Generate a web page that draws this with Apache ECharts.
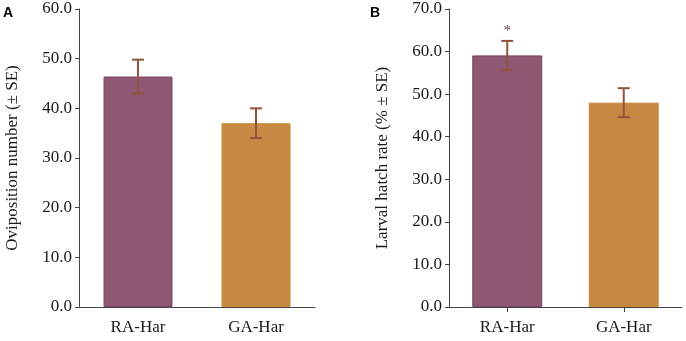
<!DOCTYPE html>
<html>
<head>
<meta charset="utf-8">
<script src="https://cdn.jsdelivr.net/npm/echarts@6/dist/echarts.min.js"></script>
<style>
  html, body { margin: 0; padding: 0; background: #fff; }
  #main { width: 686px; height: 341px; }
</style>
</head>
<body>
<div id="main"></div>
<script>
// data
var categories = ['RA-Har', 'GA-Har'];
var ovipositionMean = [46.4, 37.0];
var ovipositionSE = [3.4, 3.0];
var hatchMean = [59.1, 48.0];
var hatchSE = [3.4, 3.4];
var hatchSig = ['*', ''];
var ovipositionTicks = { min: 0, max: 60, interval: 10 };
var hatchTicks = { min: 0, max: 70, interval: 10 };

var barColors = ['#8e5873', '#c68842'];
var barBorders = ['#7e4662', '#c9883a'];
var errColor = '#93543e';
var font = '"Liberation Serif", "Times New Roman", serif';

function barData(means) {
    var out = [];
    for (var i = 0; i < means.length; i++) {
        out.push({
            value: means[i],
            itemStyle: { color: barColors[i], borderColor: barBorders[i], borderWidth: 1 }
        });
    }
    return out;
}

function errData(means, ses) {
    var out = [];
    for (var i = 0; i < means.length; i++) {
        out.push([i, means[i] - ses[i], means[i] + ses[i]]);
    }
    return out;
}

function errRender(marks) {
    return function (params, api) {
        var idx = api.value(0);
        var lo = api.coord([idx, api.value(1)]);
        var hi = api.coord([idx, api.value(2)]);
        var half = 6;
        var style = { stroke: errColor, lineWidth: 2 };
        var children = [
            { type: 'line', shape: { x1: hi[0], y1: hi[1], x2: lo[0], y2: lo[1] }, style: style },
            { type: 'line', shape: { x1: hi[0] - half, y1: hi[1], x2: hi[0] + half, y2: hi[1] }, style: style },
            { type: 'line', shape: { x1: lo[0] - half, y1: lo[1], x2: lo[0] + half, y2: lo[1] }, style: style }
        ];
        // significance mark above the error bar
        if (marks && marks[params.dataIndex]) {
            children.push({
                type: 'text',
                style: {
                    text: marks[params.dataIndex], x: hi[0], y: hi[1] - 2,
                    align: 'center', verticalAlign: 'bottom',
                    fill: '#6b3a55', font: '15px ' + font
                }
            });
        }
        return { type: 'group', children: children };
    };
}

function yAxisOf(ticks, name, gridIndex) {
    return {
        type: 'value',
        gridIndex: gridIndex,
        min: ticks.min,
        max: ticks.max,
        interval: ticks.interval,
        name: name,
        nameLocation: 'middle',
        nameGap: 58,
        nameTextStyle: { fontFamily: font, fontSize: 17, color: '#1a1a1a' },
        axisLine: { show: true, lineStyle: { color: '#444', width: 1 } },
        axisTick: { show: true, length: 4, lineStyle: { color: '#444' } },
        axisLabel: {
            fontFamily: font, fontSize: 17, color: '#1a1a1a', margin: 7,
            formatter: function (v) { return v.toFixed(1); }
        },
        splitLine: { show: false }
    };
}

function xAxisOf(gridIndex, showTick) {
    return {
        type: 'category',
        gridIndex: gridIndex,
        data: categories,
        axisLine: { show: true, lineStyle: { color: '#444', width: 1 } },
        axisTick: { show: showTick, alignWithLabel: true, length: 5, lineStyle: { color: '#444' } },
        axisLabel: { fontFamily: font, fontSize: 17, color: '#1a1a1a', margin: 12 }
    };
}

var myChart = echarts.init(document.getElementById('main'));
var option = {
    animation: false,
    backgroundColor: '#fff',
    grid: [
        { left: 79, top: 9, width: 236, height: 298 },
        { left: 449, top: 9, width: 233, height: 298 }
    ],
    xAxis: [xAxisOf(0, false), xAxisOf(1, true)],
    yAxis: [
        yAxisOf(ovipositionTicks, 'Oviposition number (± SE)', 0),
        yAxisOf(hatchTicks, 'Larval hatch rate (% ± SE)', 1)
    ],
    graphic: [
        { type: 'text', left: 3, top: 6, style: { text: 'A', font: 'bold 14px "Liberation Sans", Arial, sans-serif', fill: '#000' } },
        { type: 'text', left: 370, top: 6, style: { text: 'B', font: 'bold 14px "Liberation Sans", Arial, sans-serif', fill: '#000' } }
    ],
    series: [
        { type: 'bar', xAxisIndex: 0, yAxisIndex: 0, barWidth: 69, data: barData(ovipositionMean) },
        { type: 'custom', xAxisIndex: 0, yAxisIndex: 0, renderItem: errRender(null), data: errData(ovipositionMean, ovipositionSE), z: 3 },
        { type: 'bar', xAxisIndex: 1, yAxisIndex: 1, barWidth: 70, data: barData(hatchMean) },
        { type: 'custom', xAxisIndex: 1, yAxisIndex: 1, renderItem: errRender(hatchSig), data: errData(hatchMean, hatchSE), z: 3 }
    ]
};
myChart.setOption(option);
</script>
</body>
</html>
